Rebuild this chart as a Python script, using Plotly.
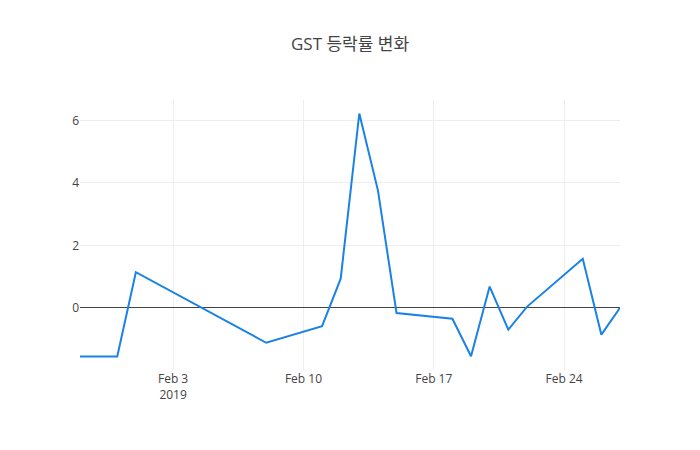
import plotly.graph_objects as go

# daily change rate (%) of GST
dates = [
    "2019-01-29", "2019-01-31", "2019-02-01", "2019-02-08", "2019-02-11",
    "2019-02-12", "2019-02-13", "2019-02-14", "2019-02-15", "2019-02-18",
    "2019-02-19", "2019-02-20", "2019-02-21", "2019-02-22", "2019-02-25",
    "2019-02-26", "2019-02-27",
]
rates = [
    -1.56, -1.56, 1.14, -1.12, -0.59,
    0.93, 6.22, 3.76, -0.17, -0.35,
    -1.55, 0.68, -0.70, 0.03, 1.57,
    -0.86, 0.0,
]

title_text = "GST 등락률 변화"

fig = go.Figure(data=[go.Scatter(
    x=dates, y=rates, mode="lines",
    line=dict(color="#1a82e6", width=2),
)])

fig.update_layout(
    template="none",
    title=dict(text=title_text, x=0.5, font=dict(size=17, color="#444")),
    font=dict(family="Open Sans, Noto Sans CJK KR, sans-serif", size=12, color="#444"),
    width=700, height=450,
    margin=dict(l=80, r=80, t=100, b=80),
    paper_bgcolor="white", plot_bgcolor="white",
    xaxis=dict(showgrid=True, gridcolor="#eee", zeroline=False, showline=False, ticks=""),
    yaxis=dict(showgrid=True, gridcolor="#eee", zeroline=True, zerolinecolor="#444",
               zerolinewidth=1, showline=False, ticks=""),
    showlegend=False,
)

# page body margin off so the figure sits at the window's corner
fig.write_html("out.html", config={"displayModeBar": False},
               post_script="document.body.style.margin='0';")
